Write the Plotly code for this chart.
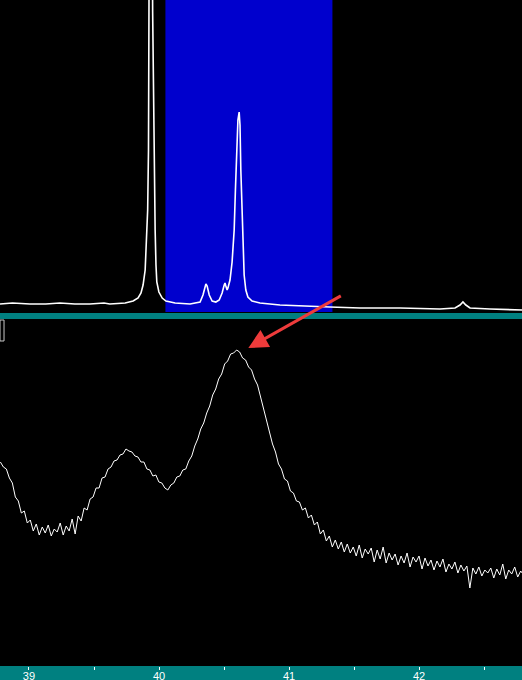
import numpy as np
import plotly.graph_objects as go

# Overview scan (top panel): 2-theta positions and intensities
overview_2theta = [34.80, 35.10, 35.52, 35.90, 36.24, 36.60, 36.96, 37.30, 37.44, 37.70,
                   37.81, 38.00, 38.12, 38.19, 38.24, 38.29, 38.32, 38.35, 38.37, 38.39,
                   38.42, 38.43, 38.44, 38.47, 38.48, 38.50, 38.53, 38.55, 38.57, 38.62,
                   38.70, 38.79, 39.01, 39.37, 39.50, 39.61, 39.68, 39.73, 39.75, 39.78,
                   39.83, 39.90, 39.99, 40.07, 40.14, 40.19, 40.21, 40.23, 40.26, 40.28,
                   40.33, 40.38, 40.43, 40.46, 40.50, 40.52, 40.55, 40.57, 40.59, 40.62,
                   40.64, 40.67, 40.71, 40.76, 40.86, 41.05, 41.53, 42.01, 42.73, 43.46,
                   44.42, 45.38, 45.74, 45.86, 45.93, 46.00, 46.10, 46.58, 47.35]
overview_counts = [8, 9, 8, 8, 9, 8, 8, 9, 8, 9,
                   9, 11, 14, 19, 27, 42, 67, 102, 162, 252,
                   600, 900, 600, 300, 252, 152, 82, 47, 30, 20,
                   14, 11, 9, 8, 9, 10, 17, 25, 28, 26,
                   17, 11, 10, 12, 19, 27, 29, 26, 22, 24,
                   32, 50, 82, 122, 162, 192, 200, 187, 142, 92,
                   57, 37, 22, 15, 11, 9, 7, 6, 5, 4,
                   4, 3, 4, 7, 10, 7, 4, 3, 2]

# Zoomed scan (bottom panel): fixed step scan, intensities
zoom_start = 38.78
zoom_step = 0.023
zoom_counts = [204, 199, 197, 188, 183, 169, 165, 153, 155, 143,
               146, 135, 142, 131, 139, 133, 141, 130, 137, 134,
               143, 131, 140, 135, 147, 132, 150, 145, 158, 156,
               167, 169, 178, 178, 188, 189, 197, 199, 205, 206,
               211, 212, 217, 215, 214, 210, 209, 204, 204, 197,
               196, 190, 191, 184, 183, 178, 176, 181, 183, 189,
               190, 196, 197, 205, 210, 220, 227, 237, 243, 253,
               260, 271, 277, 287, 292, 302, 305, 312, 313, 316,
               314, 308, 306, 299, 296, 287, 281, 269, 259, 245,
               235, 222, 214, 202, 197, 187, 185, 175, 173, 165,
               164, 156, 158, 148, 151, 141, 144, 132, 136, 125,
               130, 119, 126, 117, 124, 114, 122, 113, 119, 110,
               121, 108, 117, 112, 118, 104, 116, 107, 119, 103,
               113, 106, 112, 101, 110, 103, 113, 99, 109, 104,
               110, 97, 108, 100, 106, 96, 105, 99, 107, 94,
               102, 97, 104, 93, 101, 95, 100, 78, 98, 92,
               99, 90, 96, 93, 98, 88, 97, 91, 102, 87,
               96, 92, 99, 89, 95, 91]
zoom_2theta = np.round(zoom_start + zoom_step * np.arange(len(zoom_counts)), 3)

# Window shown in the lower panel (also highlighted in the upper one)
window = [38.777, 42.792]
overview_range = [34.8, 47.35]
tick_vals = [39, 40, 41, 42]

fig = go.Figure()

fig.add_trace(go.Scatter(
    x=overview_2theta, y=overview_counts,
    mode='lines', line=dict(color='white', width=1.6),
    xaxis='x2', yaxis='y2', showlegend=False, hoverinfo='skip'
))

fig.add_trace(go.Scatter(
    x=zoom_2theta, y=zoom_counts,
    mode='lines', line=dict(color='white', width=1),
    xaxis='x', yaxis='y', showlegend=False
))

# selected window in the overview
fig.add_shape(type='rect', xref='x2', yref='y2 domain',
              x0=window[0], x1=window[1], y0=0, y1=1,
              fillcolor='#0000CD', line_width=0, layer='below')

# teal separator bar and bottom axis bar
fig.add_shape(type='rect', xref='paper', yref='paper', x0=0, x1=1,
              y0=0.521, y1=0.530, fillcolor='#008080', line_width=0, layer='below')
fig.add_shape(type='rect', xref='paper', yref='paper', x0=0, x1=1,
              y0=-0.03, y1=0, fillcolor='#008080', line_width=0, layer='below')

# little scrollbar stub on the left
fig.add_shape(type='rect', xref='paper', yref='paper', x0=0, x1=0.0077,
              y0=0.488, y1=0.5195, fillcolor='black',
              line=dict(color='#C8C8C8', width=1))

# red arrow pointing at the main peak of the zoomed scan
peak_i = int(np.argmax(zoom_counts))
fig.add_annotation(
    x=zoom_2theta[peak_i] + 0.09, y=zoom_counts[peak_i] + 2,
    xref='x', yref='y', ax=94, ay=-53, text='',
    showarrow=True, arrowhead=2, arrowsize=1.3, arrowwidth=3,
    arrowcolor='#EE3B3B'
)

fig.update_layout(
    width=522, height=680,
    margin=dict(l=0, r=0, t=0, b=14),
    paper_bgcolor='black',
    plot_bgcolor='rgba(0,0,0,0)',
    font=dict(family='Liberation Sans, Arial, sans-serif', color='white', size=11),
    xaxis=dict(range=window, domain=[0, 1], anchor='y', automargin=False,
               tickvals=tick_vals, ticks='outside', ticklen=3, tickwidth=1,
               tickcolor='white', showgrid=False, zeroline=False, showline=False,
               tickfont=dict(color='white', size=11), ticklabelstandoff=-3,
               minor=dict(dtick=0.5, tick0=39, ticks='outside', ticklen=3,
                          tickcolor='white', showgrid=False)),
    yaxis=dict(range=[0, 347], domain=[0, 0.521], visible=False, automargin=False),
    xaxis2=dict(range=overview_range, anchor='y2', visible=False, automargin=False),
    yaxis2=dict(range=[0, 312], domain=[0.5315, 1], visible=False, automargin=False),
)

fig.write_html("out.html", config={'displayModeBar': False},
               post_script="document.body.style.margin='0';document.body.style.background='black';")
